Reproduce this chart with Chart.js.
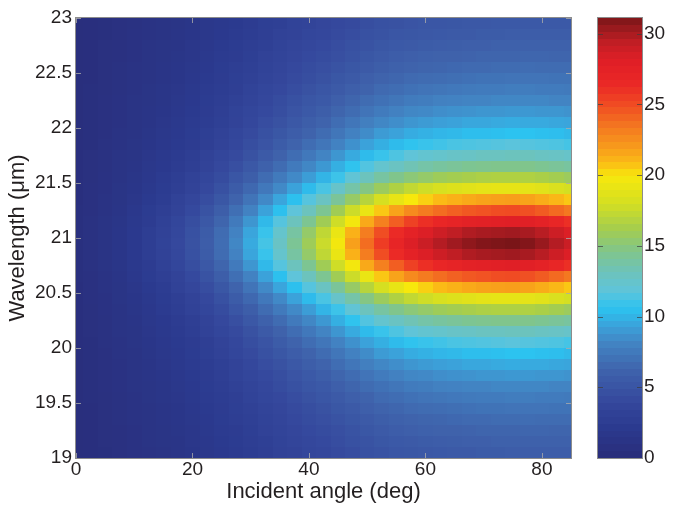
<!DOCTYPE html>
<html>
<head>
<meta charset="utf-8">
<script src="https://cdn.jsdelivr.net/npm/chart.js@4.4.1/dist/chart.umd.min.js"></script>
<style>
  html, body { margin: 0; padding: 0; background: #fff; }
  #wrap { position: relative; width: 682px; height: 505px; }
  #main { position: absolute; left: 0; top: 0; width: 682px; height: 505px; }
  #cbar { position: absolute; left: 560px; top: 0; width: 122px; height: 505px; }
</style>
</head>
<body>
<div id="wrap">
  <canvas id="main" width="682" height="505"></canvas>
  <canvas id="cbar" width="122" height="505"></canvas>
</div>
<script>
// cell centres: incident angle (deg) and wavelength (um)
const angles = [0, 2.5, 5, 7.5, 10, 12.5, 15, 17.5, 20, 22.5, 25, 27.5, 30, 32.5, 35, 37.5, 40, 42.5,
                45, 47.5, 50, 52.5, 55, 57.5, 60, 62.5, 65, 67.5, 70, 72.5, 75, 77.5, 80, 82.5, 85];
const wavelengths = [19.05, 19.15, 19.25, 19.35, 19.45, 19.55, 19.65, 19.75, 19.85, 19.95,
                     20.05, 20.15, 20.25, 20.35, 20.45, 20.55, 20.65, 20.75, 20.85, 20.95,
                     21.05, 21.15, 21.25, 21.35, 21.45, 21.55, 21.65, 21.75, 21.85, 21.95,
                     22.05, 22.15, 22.25, 22.35, 22.45, 22.55, 22.65, 22.75, 22.85, 22.95];

// one row per angle, values along wavelength
const intensity = [
  /* 0 */    [0.3,0.3,0.3,0.3,0.3,0.3,0.3,0.3,0.3,0.3,0.4,0.4,0.4,0.4,0.4,0.4,0.5,0.5,0.5,0.5,0.5,0.5,0.5,0.4,0.4,0.4,0.4,0.4,0.4,0.3,0.3,0.3,0.3,0.3,0.3,0.3,0.3,0.3,0.3,0.3],
  /* 2.5 */  [0.4,0.4,0.4,0.4,0.4,0.5,0.5,0.5,0.5,0.5,0.5,0.6,0.6,0.6,0.7,0.7,0.7,0.8,0.8,0.8,0.8,0.8,0.7,0.7,0.7,0.6,0.6,0.6,0.5,0.5,0.5,0.5,0.5,0.5,0.4,0.4,0.4,0.4,0.4,0.4],
  /* 5 */    [0.5,0.6,0.6,0.6,0.6,0.6,0.7,0.7,0.7,0.7,0.8,0.8,0.8,0.9,0.9,1.0,1.0,1.1,1.1,1.2,1.1,1.1,1.0,1.0,0.9,0.9,0.8,0.8,0.8,0.7,0.7,0.7,0.7,0.6,0.6,0.6,0.6,0.6,0.5,0.5],
  /* 7.5 */  [0.7,0.7,0.7,0.8,0.8,0.8,0.9,0.9,0.9,1.0,1.0,1.1,1.1,1.2,1.3,1.3,1.4,1.5,1.6,1.6,1.6,1.5,1.4,1.3,1.3,1.2,1.1,1.1,1.0,1.0,0.9,0.9,0.9,0.8,0.8,0.8,0.7,0.7,0.7,0.7],
  /* 10 */   [0.9,0.9,0.9,1.0,1.0,1.0,1.1,1.1,1.2,1.2,1.3,1.3,1.4,1.5,1.6,1.7,1.9,2.0,2.1,2.1,2.1,2.0,1.9,1.7,1.6,1.5,1.4,1.3,1.3,1.2,1.2,1.1,1.1,1.0,1.0,1.0,0.9,0.9,0.9,0.8],
  /* 12.5 */ [1.0,1.1,1.1,1.2,1.2,1.3,1.3,1.4,1.4,1.5,1.6,1.7,1.8,1.9,2.0,2.2,2.4,2.5,2.7,2.7,2.7,2.5,2.4,2.2,2.0,1.9,1.8,1.7,1.6,1.5,1.4,1.4,1.3,1.3,1.2,1.2,1.1,1.1,1.0,1.0],
  /* 15 */   [1.2,1.3,1.3,1.4,1.4,1.5,1.5,1.6,1.7,1.8,1.9,2.0,2.1,2.3,2.4,2.6,2.9,3.1,3.2,3.3,3.2,3.1,2.9,2.6,2.4,2.3,2.1,2.0,1.9,1.8,1.7,1.6,1.5,1.5,1.4,1.4,1.3,1.3,1.2,1.2],
  /* 17.5 */ [1.4,1.4,1.5,1.6,1.6,1.7,1.8,1.9,2.0,2.1,2.2,2.3,2.5,2.7,2.9,3.2,3.4,3.7,3.9,4.0,3.9,3.7,3.4,3.2,2.9,2.7,2.5,2.3,2.2,2.1,2.0,1.9,1.8,1.7,1.6,1.6,1.5,1.4,1.4,1.3],
  /* 20 */   [1.6,1.7,1.7,1.8,1.9,2.0,2.1,2.2,2.3,2.4,2.5,2.7,2.9,3.2,3.4,3.8,4.1,4.5,4.7,4.8,4.7,4.5,4.1,3.8,3.4,3.2,2.9,2.7,2.5,2.4,2.3,2.2,2.1,2.0,1.9,1.8,1.7,1.7,1.6,1.5],
  /* 22.5 */ [1.8,1.9,2.0,2.1,2.2,2.3,2.4,2.5,2.6,2.8,2.9,3.2,3.4,3.7,4.0,4.4,4.9,5.3,5.6,5.7,5.6,5.3,4.9,4.4,4.0,3.7,3.4,3.2,2.9,2.8,2.6,2.5,2.4,2.3,2.2,2.1,2.0,1.9,1.8,1.8],
  /* 25 */   [2.1,2.2,2.3,2.4,2.5,2.6,2.7,2.9,3.0,3.2,3.4,3.7,4.0,4.3,4.7,5.2,5.8,6.3,6.7,6.8,6.7,6.3,5.8,5.2,4.7,4.3,4.0,3.7,3.4,3.2,3.0,2.9,2.7,2.6,2.5,2.4,2.3,2.2,2.1,2.0],
  /* 27.5 */ [2.3,2.4,2.5,2.7,2.8,2.9,3.1,3.3,3.4,3.7,3.9,4.2,4.6,5.1,5.6,6.2,6.9,7.5,8.0,8.2,8.0,7.5,6.9,6.2,5.6,5.1,4.6,4.2,3.9,3.7,3.4,3.3,3.1,2.9,2.8,2.7,2.5,2.4,2.3,2.2],
  /* 30 */   [2.6,2.7,2.8,3.0,3.1,3.3,3.5,3.7,3.9,4.2,4.5,4.8,5.3,5.8,6.5,7.2,8.0,8.8,9.4,9.6,9.4,8.8,8.0,7.2,6.5,5.8,5.3,4.8,4.5,4.2,3.9,3.7,3.5,3.3,3.1,3.0,2.8,2.7,2.6,2.5],
  /* 32.5 */ [2.9,3.0,3.2,3.3,3.5,3.7,3.9,4.1,4.4,4.7,5.0,5.5,6.0,6.7,7.4,8.3,9.3,10.2,10.9,11.2,10.9,10.2,9.3,8.3,7.4,6.7,6.0,5.5,5.0,4.7,4.4,4.1,3.9,3.7,3.5,3.3,3.2,3.0,2.9,2.8],
  /* 35 */   [3.2,3.3,3.5,3.6,3.8,4.0,4.3,4.5,4.8,5.2,5.6,6.1,6.7,7.5,8.3,9.4,10.5,11.6,12.4,12.7,12.4,11.6,10.5,9.4,8.3,7.5,6.7,6.1,5.6,5.2,4.8,4.5,4.3,4.0,3.8,3.6,3.5,3.3,3.2,3.0],
  /* 37.5 */ [3.4,3.6,3.8,4.0,4.2,4.4,4.7,5.0,5.3,5.7,6.2,6.8,7.5,8.3,9.3,10.5,11.8,13.0,13.9,14.3,13.9,13.0,11.8,10.5,9.3,8.3,7.5,6.8,6.2,5.7,5.3,5.0,4.7,4.4,4.2,4.0,3.8,3.6,3.4,3.3],
  /* 40 */   [3.7,3.9,4.1,4.3,4.5,4.8,5.1,5.4,5.8,6.2,6.8,7.4,8.2,9.1,10.3,11.6,13.0,14.4,15.5,15.9,15.5,14.4,13.0,11.6,10.3,9.1,8.2,7.4,6.8,6.2,5.8,5.4,5.1,4.8,4.5,4.3,4.1,3.9,3.7,3.5],
  /* 42.5 */ [3.9,4.1,4.3,4.6,4.8,5.1,5.4,5.8,6.2,6.7,7.3,8.1,8.9,10.0,11.3,12.8,14.4,16.0,17.2,17.6,17.2,16.0,14.4,12.8,11.3,10.0,8.9,8.1,7.3,6.7,6.2,5.8,5.4,5.1,4.8,4.6,4.3,4.1,3.9,3.8],
  /* 45 */   [4.2,4.4,4.6,4.9,5.2,5.5,5.9,6.3,6.8,7.3,8.0,8.8,9.8,11.0,12.5,14.2,16.0,17.8,19.2,19.7,19.2,17.8,16.0,14.2,12.5,11.0,9.8,8.8,8.0,7.3,6.8,6.3,5.9,5.5,5.2,4.9,4.6,4.4,4.2,4.0],
  /* 47.5 */ [4.4,4.7,4.9,5.2,5.5,5.9,6.3,6.7,7.3,7.9,8.6,9.6,10.7,12.0,13.7,15.6,17.7,19.7,21.2,21.8,21.2,19.7,17.7,15.6,13.7,12.0,10.7,9.6,8.6,7.9,7.3,6.7,6.3,5.9,5.5,5.2,4.9,4.7,4.4,4.2],
  /* 50 */   [4.7,4.9,5.2,5.5,5.9,6.2,6.7,7.2,7.8,8.4,9.3,10.3,11.5,13.0,14.8,16.9,19.2,21.5,23.2,23.8,23.2,21.5,19.2,16.9,14.8,13.0,11.5,10.3,9.3,8.4,7.8,7.2,6.7,6.2,5.9,5.5,5.2,4.9,4.7,4.5],
  /* 52.5 */ [4.9,5.2,5.5,5.8,6.2,6.6,7.0,7.6,8.2,9.0,9.8,10.9,12.3,13.9,15.8,18.1,20.6,23.1,24.9,25.6,24.9,23.1,20.6,18.1,15.8,13.9,12.3,10.9,9.8,9.0,8.2,7.6,7.0,6.6,6.2,5.8,5.5,5.2,4.9,4.7],
  /* 55 */   [5.1,5.4,5.7,6.0,6.4,6.8,7.3,7.9,8.5,9.3,10.3,11.4,12.8,14.6,16.6,19.1,21.7,24.3,26.3,27.0,26.3,24.3,21.7,19.1,16.6,14.6,12.8,11.4,10.3,9.3,8.5,7.9,7.3,6.8,6.4,6.0,5.7,5.4,5.1,4.8],
  /* 57.5 */ [5.2,5.5,5.9,6.2,6.6,7.0,7.6,8.2,8.8,9.7,10.7,11.9,13.3,15.1,17.3,19.9,22.7,25.4,27.4,28.2,27.4,25.4,22.7,19.9,17.3,15.1,13.3,11.9,10.7,9.7,8.8,8.2,7.6,7.0,6.6,6.2,5.9,5.5,5.2,5.0],
  /* 60 */   [5.3,5.6,6.0,6.3,6.7,7.2,7.7,8.3,9.0,9.9,10.9,12.2,13.7,15.5,17.8,20.4,23.3,26.1,28.2,29.0,28.2,26.1,23.3,20.4,17.8,15.5,13.7,12.2,10.9,9.9,9.0,8.3,7.7,7.2,6.7,6.3,6.0,5.6,5.3,5.1],
  /* 62.5 */ [5.4,5.7,6.1,6.4,6.8,7.3,7.9,8.5,9.2,10.1,11.1,12.4,14.0,15.9,18.2,20.9,23.8,26.7,28.9,29.7,28.9,26.7,23.8,20.9,18.2,15.9,14.0,12.4,11.1,10.1,9.2,8.5,7.9,7.3,6.8,6.4,6.1,5.7,5.4,5.1],
  /* 65 */   [5.5,5.8,6.1,6.5,6.9,7.4,8.0,8.6,9.3,10.2,11.3,12.6,14.2,16.1,18.5,21.2,24.2,27.2,29.4,30.2,29.4,27.2,24.2,21.2,18.5,16.1,14.2,12.6,11.3,10.2,9.3,8.6,8.0,7.4,6.9,6.5,6.1,5.8,5.5,5.2],
  /* 67.5 */ [5.5,5.9,6.2,6.6,7.0,7.5,8.1,8.7,9.5,10.4,11.4,12.7,14.4,16.3,18.7,21.5,24.5,27.5,29.8,30.6,29.8,27.5,24.5,21.5,18.7,16.3,14.4,12.7,11.4,10.4,9.5,8.7,8.1,7.5,7.0,6.6,6.2,5.9,5.5,5.3],
  /* 70 */   [5.6,5.9,6.3,6.6,7.1,7.6,8.1,8.8,9.5,10.4,11.5,12.9,14.5,16.5,18.9,21.7,24.7,27.7,30.0,30.9,30.0,27.7,24.7,21.7,18.9,16.5,14.5,12.9,11.5,10.4,9.5,8.8,8.1,7.6,7.1,6.6,6.3,5.9,5.6,5.3],
  /* 72.5 */ [5.6,6.0,6.3,6.7,7.1,7.6,8.2,8.8,9.6,10.5,11.6,12.9,14.6,16.6,19.0,21.8,24.9,27.9,30.1,31.0,30.1,27.9,24.9,21.8,19.0,16.6,14.6,12.9,11.6,10.5,9.6,8.8,8.2,7.6,7.1,6.7,6.3,6.0,5.6,5.4],
  /* 75 */   [5.7,6.0,6.3,6.7,7.2,7.7,8.2,8.9,9.7,10.6,11.7,13.0,14.6,16.6,19.0,21.9,25.0,28.0,30.2,31.1,30.2,28.0,25.0,21.9,19.0,16.6,14.6,13.0,11.7,10.6,9.7,8.9,8.2,7.7,7.2,6.7,6.3,6.0,5.7,5.4],
  /* 77.5 */ [5.7,6.0,6.4,6.8,7.2,7.7,8.2,8.9,9.6,10.6,11.6,13.0,14.6,16.6,18.9,21.7,24.8,27.8,30.0,30.9,30.0,27.8,24.8,21.7,18.9,16.6,14.6,13.0,11.6,10.6,9.6,8.9,8.2,7.7,7.2,6.8,6.4,6.0,5.7,5.4],
  /* 80 */   [5.7,6.0,6.4,6.7,7.2,7.6,8.2,8.8,9.6,10.5,11.5,12.8,14.4,16.4,18.7,21.4,24.4,27.4,29.6,30.4,29.6,27.4,24.4,21.4,18.7,16.4,14.4,12.8,11.5,10.5,9.6,8.8,8.2,7.6,7.2,6.7,6.4,6.0,5.7,5.4],
  /* 82.5 */ [5.7,6.0,6.3,6.7,7.1,7.6,8.1,8.8,9.5,10.4,11.4,12.7,14.2,16.1,18.3,21.0,23.9,26.8,28.9,29.7,28.9,26.8,23.9,21.0,18.3,16.1,14.2,12.7,11.4,10.4,9.5,8.8,8.1,7.6,7.1,6.7,6.3,6.0,5.7,5.4],
  /* 85 */   [5.7,6.0,6.3,6.7,7.1,7.5,8.1,8.7,9.4,10.2,11.2,12.5,14.0,15.8,18.0,20.6,23.4,26.1,28.2,29.0,28.2,26.1,23.4,20.6,18.0,15.8,14.0,12.5,11.2,10.2,9.4,8.7,8.1,7.5,7.1,6.7,6.3,6.0,5.7,5.4]
];

const xTicks = [0, 20, 40, 60, 80];
const yTicks = [19, 19.5, 20, 20.5, 21, 21.5, 22, 22.5, 23];
const cbTicks = [0, 5, 10, 15, 20, 25, 30];
const cbMax = 31.1;

// jet-like colormap sampled from the colour bar
const cmapStops = [0, 2.2, 4.0, 6.2, 8.1, 9.3, 10.6, 11.8, 13.1, 14.6, 16.2, 18.0, 19.9, 20.8, 21.8, 23.3, 24.9, 26.4, 28.0, 29.3, 30.3, 31.1];
const cmapColors = ['#292d7a', '#2b3a8f', '#35489d', '#3f63ac', '#4284c3', '#3ba2da', '#2cc3f0', '#5fc4da', '#6dc3bb', '#80c58c',
                    '#a5cd4d', '#d4df22', '#f7e80c', '#fbbd16', '#f8a01b', '#f47b20', '#f04d23', '#eb2826', '#e01f26', '#c41e25', '#9c1a1f', '#7a1518'];

function hexToRgb(h) {
    return [parseInt(h.slice(1, 3), 16), parseInt(h.slice(3, 5), 16), parseInt(h.slice(5, 7), 16)];
}
const cmapRgb = cmapColors.map(hexToRgb);

function colorFor(v) {
    if (v <= cmapStops[0]) return cmapColors[0];
    for (let i = 1; i < cmapStops.length; i++) {
        if (v <= cmapStops[i]) {
            const t = (v - cmapStops[i - 1]) / (cmapStops[i] - cmapStops[i - 1]);
            const a = cmapRgb[i - 1], b = cmapRgb[i];
            return `rgb(${Math.round(a[0] + (b[0] - a[0]) * t)},${Math.round(a[1] + (b[1] - a[1]) * t)},${Math.round(a[2] + (b[2] - a[2]) * t)})`;
        }
    }
    return cmapColors[cmapColors.length - 1];
}

Chart.defaults.font.family = '"Liberation Sans", Arial, sans-serif';
Chart.defaults.color = '#231f20';

const cells = [];
angles.forEach((a, i) => wavelengths.forEach((w, j) => cells.push({ x: a, y: w, v: intensity[i][j] })));

const tickFont = { size: 19 };
const titleFont = { size: 22 };

function drawFrame(chart) {
    const { ctx, chartArea: ca } = chart;
    ctx.save();
    ctx.strokeStyle = '#8c8c8c';
    ctx.lineWidth = 1;
    ctx.strokeRect(Math.round(ca.left) - 0.5, Math.round(ca.top) - 0.5, Math.round(ca.right - ca.left) + 1, Math.round(ca.bottom - ca.top) + 1);
    ctx.restore();
}

// heat map cells, placed through the chart scales
const heatmap = {
    id: 'heatmap',
    beforeDatasetsDraw(chart) {
        const { ctx, chartArea: ca, scales: { x, y } } = chart;
        const dx = (angles[1] - angles[0]) / 2;
        const dy = (wavelengths[1] - wavelengths[0]) / 2;
        ctx.save();
        ctx.beginPath();
        ctx.rect(ca.left, ca.top, ca.right - ca.left, ca.bottom - ca.top);
        ctx.clip();
        chart.data.datasets[0].data.forEach(c => {
            const l = Math.round(x.getPixelForValue(c.x - dx));
            const r = Math.round(x.getPixelForValue(c.x + dx));
            const t = Math.round(y.getPixelForValue(c.y + dy));
            const b = Math.round(y.getPixelForValue(c.y - dy));
            ctx.fillStyle = colorFor(c.v);
            ctx.fillRect(l, t, r - l, b - t);
        });
        ctx.restore();
    },
    afterDraw(chart) {
        const { ctx, chartArea: ca, scales: { x, y } } = chart;
        ctx.save();
        ctx.strokeStyle = 'rgba(170,170,170,0.8)';
        ctx.lineWidth = 1;
        ctx.beginPath();
        xTicks.forEach(v => {
            const px = Math.round(x.getPixelForValue(v)) + 0.5;
            ctx.moveTo(px, ca.bottom); ctx.lineTo(px, ca.bottom - 5);
            ctx.moveTo(px, ca.top); ctx.lineTo(px, ca.top + 5);
        });
        yTicks.forEach(v => {
            const py = Math.round(y.getPixelForValue(v)) + 0.5;
            ctx.moveTo(ca.left, py); ctx.lineTo(ca.left + 5, py);
            ctx.moveTo(ca.right, py); ctx.lineTo(ca.right - 5, py);
        });
        ctx.stroke();
        ctx.restore();
        drawFrame(chart);
    }
};

new Chart(document.getElementById('main'), {
    type: 'scatter',
    data: { datasets: [{ data: cells, pointRadius: 0, showLine: false }] },
    options: {
        responsive: false,
        animation: false,
        devicePixelRatio: 1,
        layout: { padding: { top: 18, right: 111, left: 0, bottom: 0 } },
        plugins: { legend: { display: false }, tooltip: { enabled: false } },
        scales: {
            x: {
                type: 'linear', min: 0, max: 85,
                afterBuildTicks: s => { s.ticks = xTicks.map(v => ({ value: v })); },
                afterFit: s => { s.height = 47; },
                grid: { display: false, drawTicks: false },
                border: { display: false },
                ticks: { font: tickFont, padding: 0, maxRotation: 0, callback: v => `${v}` },
                title: { display: true, text: 'Incident angle (deg)', font: titleFont, padding: { top: 0, bottom: 0 } }
            },
            y: {
                type: 'linear', min: 19, max: 23,
                afterBuildTicks: s => { s.ticks = yTicks.map(v => ({ value: v })); },
                afterFit: s => { s.width = 76; },
                grid: { display: false, drawTicks: false },
                border: { display: false },
                ticks: { font: tickFont, padding: 4, callback: v => `${v}` },
                title: { display: true, text: 'Wavelength (μm)', font: titleFont, padding: { top: 5, bottom: 0 } }
            }
        }
    },
    plugins: [heatmap]
});

// colour bar: 64 bands through its own y scale
const colorbar = {
    id: 'colorbar',
    beforeDatasetsDraw(chart) {
        const { ctx, chartArea: ca, scales: { y } } = chart;
        const n = 64;
        ctx.save();
        for (let i = 0; i < n; i++) {
            const v0 = cbMax * i / n, v1 = cbMax * (i + 1) / n;
            const t = Math.round(y.getPixelForValue(v1)), b = Math.round(y.getPixelForValue(v0));
            ctx.fillStyle = colorFor((v0 + v1) / 2);
            ctx.fillRect(ca.left, t, ca.right - ca.left, b - t);
        }
        ctx.strokeStyle = 'rgba(60,60,60,0.7)';
        ctx.lineWidth = 1;
        ctx.beginPath();
        cbTicks.forEach(v => {
            const py = Math.round(y.getPixelForValue(v)) + 0.5;
            ctx.moveTo(ca.left, py); ctx.lineTo(ca.left + 5, py);
            ctx.moveTo(ca.right, py); ctx.lineTo(ca.right - 5, py);
        });
        ctx.stroke();
        ctx.restore();
    },
    afterDraw(chart) { drawFrame(chart); }
};

new Chart(document.getElementById('cbar'), {
    type: 'scatter',
    data: { datasets: [{ data: [], pointRadius: 0 }] },
    options: {
        responsive: false,
        animation: false,
        devicePixelRatio: 1,
        layout: { padding: { top: 18, right: 0, left: 38, bottom: 47 } },
        plugins: { legend: { display: false }, tooltip: { enabled: false } },
        scales: {
            x: { type: 'linear', display: false, min: 0, max: 1 },
            y: {
                type: 'linear', position: 'right', min: 0, max: cbMax,
                afterBuildTicks: s => { s.ticks = cbTicks.map(v => ({ value: v })); },
                afterFit: s => { s.width = 40; },
                grid: { display: false, drawTicks: false },
                border: { display: false },
                ticks: { font: tickFont, padding: 2, callback: v => `${v}` }
            }
        }
    },
    plugins: [colorbar]
});
</script>
</body>
</html>
